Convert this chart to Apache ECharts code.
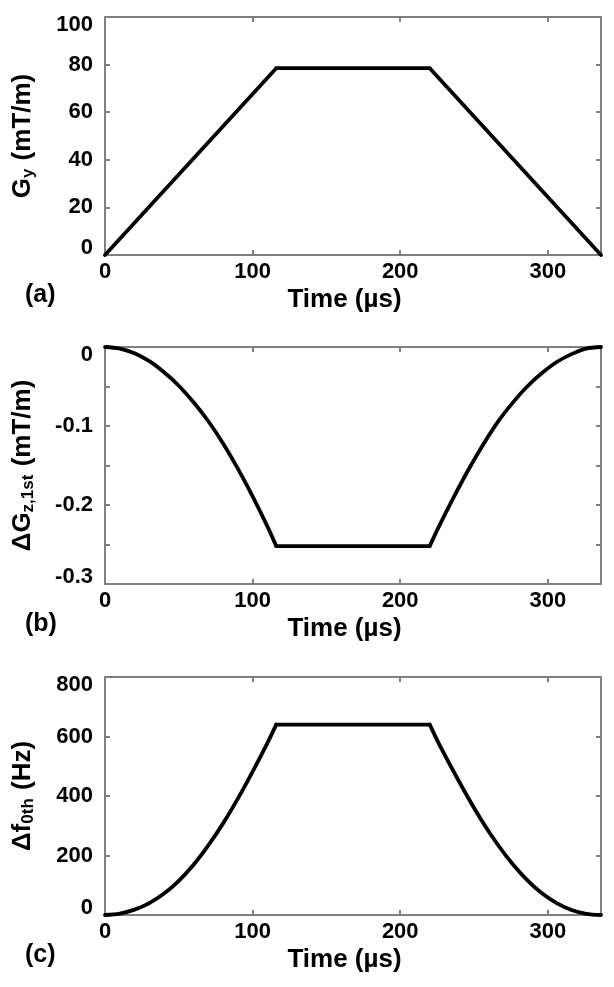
<!DOCTYPE html>
<html><head><meta charset="utf-8">
<script src="https://cdn.jsdelivr.net/npm/echarts@6/dist/echarts.min.js"></script>
<style>html,body{margin:0;padding:0;background:#fff}#c{width:614px;height:987px}</style>
</head><body><div id="c"></div>
<script>
// ---- data ----
const timeTicks = [0, 100, 200, 300];
const timeMax = 336;

// (a) Gy (mT/m)
const gyT = [0, 116, 220, 336];
const gyV = [0, 78.5, 78.5, 0];

// (b) ΔGz,1st (mT/m)
const gzT = [0, 10, 20, 30, 40, 50, 60, 70, 80, 90, 100, 110, 116, 220, 226, 236, 246, 256, 266, 276, 286, 296, 306, 316, 326, 336];
const gzV = [0, -0.002, -0.008, -0.018, -0.032, -0.049, -0.070, -0.094, -0.122, -0.154, -0.189, -0.227, -0.252,
             -0.252, -0.228, -0.191, -0.156, -0.124, -0.095, -0.071, -0.050, -0.033, -0.019, -0.009, -0.002, 0];

// (c) Δf0th (Hz)
const dfT = [0, 10, 20, 30, 40, 50, 60, 70, 80, 90, 100, 110, 116, 220, 226, 236, 246, 256, 266, 276, 286, 296, 306, 316, 326, 336];
const dfV = [0, 5, 18, 40, 72, 115, 169, 234, 308, 391, 482, 578, 640,
             640, 578, 484, 394, 311, 237, 172, 117, 73, 40, 17, 4, 0];

const panelLabels = ['(a)', '(b)', '(c)'];
const yNames = ['G{sub|y} (mT/m)', '\u0394G{sub|z,1st} (mT/m)', '\u0394f{sub|0th} (Hz)'];
const xName = 'Time (\u00b5s)';

// ---- layout / style ----
const FONT = 'Liberation Sans';
const AX = '#808080';
const grids = [
  { left: 105, width: 496, top: 17, height: 238 },
  { left: 105, width: 496, top: 347, height: 237 },
  { left: 105, width: 496, top: 677, height: 238 }
];
const yRanges = [
  { min: 0, max: 100, interval: 20 },
  { min: -0.3, max: 0, interval: 0.05 },
  { min: 0, max: 800, interval: 200 }
];
const pairs = (T, V) => T.map((t, i) => [t, V[i]]);
const seriesData = [pairs(gyT, gyV), pairs(gzT, gzV), pairs(dfT, dfV)];

const axisLine = { show: true, onZero: false, lineStyle: { color: AX, width: 2 } };
const axisTick = { show: true, inside: true, length: 5, lineStyle: { color: AX, width: 2 } };
const lab = { color: '#000', fontSize: 22, fontWeight: 'bold', fontFamily: FONT };
const nameStyle = { color: '#000', fontSize: 26, fontWeight: 'bold', fontFamily: FONT };

const xAxis = [], yAxis = [], series = [], graphic = [];
grids.forEach((g, i) => {
  xAxis.push({
    type: 'value', gridIndex: i, min: 0, max: timeMax, interval: 100, position: 'bottom',
    axisLine, axisTick, splitLine: { show: false },
    axisLabel: Object.assign({ margin: 6, showMaxLabel: false,
      formatter: v => timeTicks.includes(v) ? String(v) : '' }, lab),
    name: xName, nameLocation: 'middle', nameGap: 32,
    nameTextStyle: Object.assign({ padding: [0, 17, 0, 0] }, nameStyle)
  });
  xAxis.push({
    type: 'value', gridIndex: i, min: 0, max: timeMax, interval: 100, position: 'top',
    axisLine, axisTick, splitLine: { show: false }, axisLabel: { show: false }
  });
  const r = yRanges[i];
  yAxis.push({
    type: 'value', gridIndex: i, min: r.min, max: r.max, interval: r.interval, position: 'left',
    axisLine, axisTick, splitLine: { show: false },
    axisLabel: Object.assign({ margin: 12, lineHeight: 15,
      verticalAlignMinLabel: 'bottom', verticalAlignMaxLabel: 'top',
      formatter: v => {
        if (i === 1) {
          const k = Math.round(v * 10);
          if (Math.abs(v * 10 - k) > 1e-6) return '';
          return k === 0 ? '0' : (k / 10).toFixed(1);
        }
        return String(v);
      } }, lab),
    name: yNames[i], nameLocation: 'middle', nameRotate: 90, nameGap: 68,
    nameTextStyle: Object.assign({
      rich: { sub: { fontSize: 17, fontWeight: 'bold', fontFamily: FONT, color: '#000', padding: [12, 1, 0, 0] } }
    }, nameStyle)
  });
  yAxis.push({
    type: 'value', gridIndex: i, min: r.min, max: r.max, interval: r.interval, position: 'right',
    axisLine, axisTick, splitLine: { show: false }, axisLabel: { show: false }
  });
  const d = seriesData[i];
  const n = d.length;
  const ext = i === 1 ? Math.min(...d.map(q => q[1])) : Math.max(...d.map(q => q[1]));
  const k0 = d.findIndex(p => p[1] === ext);
  // rising part, flat top, falling part
  const parts = [d.slice(0, k0 + 1), d.slice(k0, k0 + 2), d.slice(k0 + 1, n)];
  parts.forEach(part => {
    series.push({
      type: 'line', xAxisIndex: 2 * i, yAxisIndex: 2 * i, data: part,
      showSymbol: false, symbol: 'none', clip: false, smooth: i === 0 ? false : 0.3,
      lineStyle: { color: '#000', width: 3.8, cap: 'round', join: 'round' }, animation: false
    });
  });
  graphic.push({
    type: 'text', left: 25, top: g.top + g.height + 28,
    style: { text: panelLabels[i], fill: '#000', font: 'bold 25px "Liberation Sans"' }
  });
});

const chart = echarts.init(document.getElementById('c'), null, { renderer: 'canvas' });
chart.setOption({ animation: false, grid: grids, xAxis, yAxis, series, graphic });
</script>
</body></html>
